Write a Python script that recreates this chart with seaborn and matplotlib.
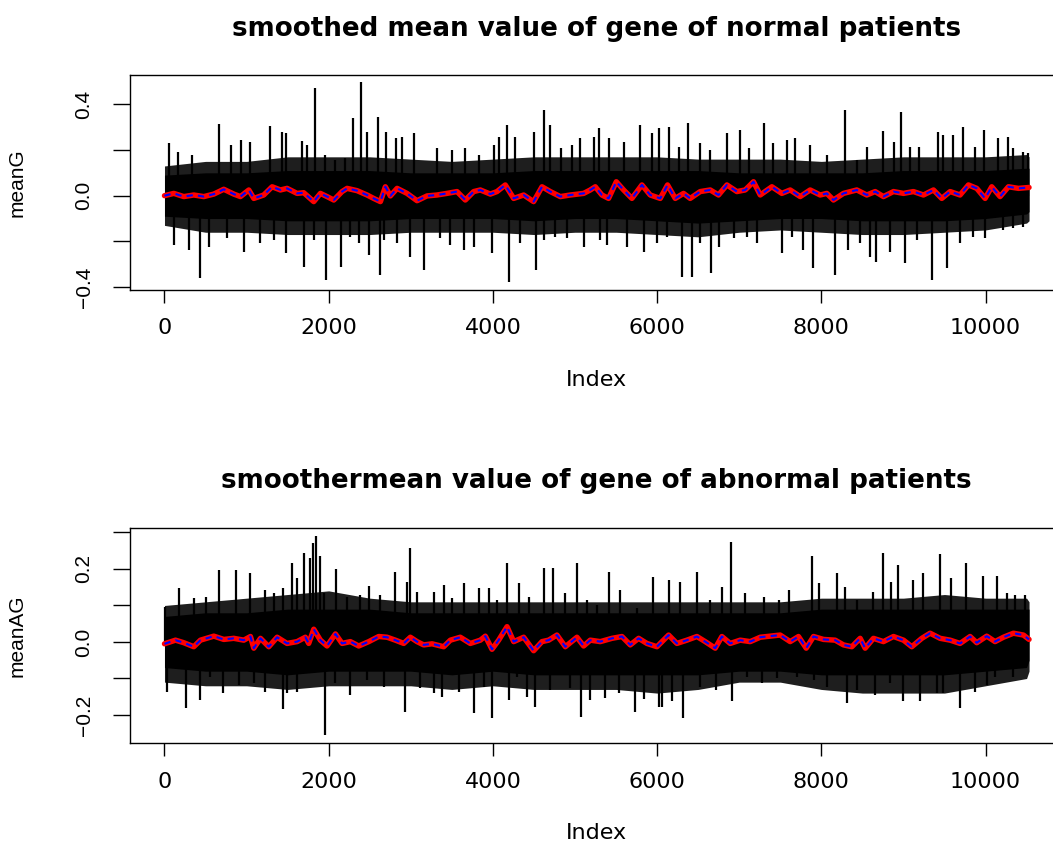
import numpy as np
import pandas as pd
import matplotlib
matplotlib.use("Agg")
import matplotlib.pyplot as plt
import seaborn as sns

# ---------------- data ----------------
titles = ["smoothed mean value of gene of normal patients",
          "smoothermean value of gene of abnormal patients"]
ylabels = ["meanG", "meanAG"]
x_ticks = [0, 2000, 4000, 6000, 8000, 10000]
n_points = 10530

# envelopes of the raw series (every 500 index): solid core and hairy fringe
env_x = [0, 500, 1000, 1500, 2000, 2500, 3000, 3500, 4000, 4500, 5000,
         5500, 6000, 6500, 7000, 7500, 8000, 8500, 9000, 9500, 10000, 10500, 10530]
top_core_hi = [0.09, 0.10, 0.10, 0.11, 0.11, 0.11, 0.10, 0.10, 0.10, 0.11, 0.11,
               0.11, 0.11, 0.11, 0.10, 0.10, 0.10, 0.10, 0.11, 0.11, 0.11, 0.12, 0.12]
top_core_lo = [-0.09, -0.10, -0.10, -0.11, -0.11, -0.11, -0.10, -0.10, -0.10, -0.11, -0.10,
               -0.10, -0.11, -0.12, -0.11, -0.10, -0.10, -0.11, -0.11, -0.11, -0.10, -0.08, -0.07]
top_fringe_hi = [0.13, 0.15, 0.15, 0.17, 0.17, 0.17, 0.16, 0.15, 0.16, 0.17, 0.17,
                 0.17, 0.17, 0.16, 0.16, 0.16, 0.15, 0.16, 0.17, 0.17, 0.17, 0.18, 0.17]
top_fringe_lo = [-0.13, -0.16, -0.16, -0.17, -0.17, -0.17, -0.16, -0.16, -0.16, -0.17, -0.16,
                 -0.16, -0.17, -0.18, -0.16, -0.15, -0.16, -0.17, -0.17, -0.16, -0.15, -0.12, -0.11]
bot_core_hi = [0.07, 0.08, 0.08, 0.09, 0.09, 0.09, 0.08, 0.08, 0.08, 0.08, 0.08,
               0.08, 0.08, 0.08, 0.08, 0.08, 0.09, 0.09, 0.09, 0.09, 0.09, 0.09, 0.09]
bot_core_lo = [-0.07, -0.08, -0.08, -0.09, -0.08, -0.08, -0.08, -0.09, -0.08, -0.09, -0.09,
               -0.09, -0.09, -0.09, -0.08, -0.08, -0.09, -0.09, -0.09, -0.09, -0.08, -0.07, -0.05]
bot_fringe_hi = [0.10, 0.11, 0.12, 0.13, 0.14, 0.12, 0.11, 0.11, 0.11, 0.11, 0.11,
                 0.11, 0.11, 0.11, 0.11, 0.11, 0.12, 0.12, 0.12, 0.13, 0.12, 0.12, 0.11]
bot_fringe_lo = [-0.11, -0.12, -0.12, -0.13, -0.12, -0.12, -0.12, -0.13, -0.12, -0.13, -0.13,
                 -0.13, -0.14, -0.13, -0.11, -0.11, -0.13, -0.14, -0.14, -0.14, -0.12, -0.10, -0.08]

# visible spikes of the raw series (index, value)
top_up_x = [53, 162, 337, 670, 812, 934, 1047, 1291, 1433, 1474, 1676, 1737, 1839, 1960, 2082,
            2204, 2297, 2394, 2467, 2597, 2703, 2825, 2894, 3036, 3320, 3502, 3664, 3827, 4010,
            4070, 4172, 4273, 4496, 4626, 4699, 4829, 4963, 5065, 5227, 5287, 5409, 5592, 5787,
            5937, 6018, 6148, 6261, 6375, 6525, 6647, 6850, 7012, 7114, 7304, 7410, 7580, 7678,
            7864, 8067, 8290, 8432, 8562, 8757, 8887, 8972, 9082, 9195, 9427, 9488, 9609, 9723,
            9873, 9987, 10157, 10271, 10340, 10462, 10523]
top_up_y = [0.229, 0.193, 0.178, 0.314, 0.222, 0.244, 0.236, 0.305, 0.280, 0.276, 0.241, 0.222,
            0.470, 0.178, 0.156, 0.163, 0.338, 0.496, 0.280, 0.346, 0.280, 0.251, 0.258, 0.276,
            0.207, 0.200, 0.207, 0.178, 0.222, 0.258, 0.309, 0.258, 0.280, 0.375, 0.309, 0.207,
            0.222, 0.251, 0.258, 0.295, 0.251, 0.236, 0.309, 0.273, 0.295, 0.302, 0.214, 0.320,
            0.229, 0.200, 0.273, 0.287, 0.207, 0.317, 0.229, 0.244, 0.251, 0.222, 0.178, 0.375,
            0.156, 0.214, 0.285, 0.236, 0.368, 0.214, 0.214, 0.280, 0.266, 0.266, 0.302, 0.214,
            0.287, 0.251, 0.258, 0.207, 0.193, 0.185]
top_dn_x = [114, 297, 438, 540, 763, 966, 1169, 1331, 1486, 1696, 1818, 1972, 2151, 2265, 2366,
            2488, 2622, 2670, 2833, 2995, 3165, 3360, 3482, 3644, 3774, 3989, 4192, 4334, 4529,
            4618, 4760, 4902, 5105, 5308, 5389, 5632, 5835, 5998, 6119, 6302, 6424, 6525, 6655,
            6748, 6931, 7093, 7215, 7519, 7641, 7783, 7897, 8169, 8331, 8473, 8595, 8668, 8838,
            9021, 9163, 9346, 9536, 9690, 9853, 9995, 10218, 10340, 10462]
top_dn_y = [-0.216, -0.238, -0.362, -0.223, -0.187, -0.245, -0.209, -0.194, -0.252, -0.311,
            -0.194, -0.369, -0.311, -0.179, -0.209, -0.260, -0.347, -0.194, -0.209, -0.267,
            -0.325, -0.187, -0.216, -0.238, -0.223, -0.252, -0.376, -0.209, -0.325, -0.194,
            -0.179, -0.187, -0.223, -0.194, -0.216, -0.223, -0.245, -0.209, -0.179, -0.355,
            -0.355, -0.209, -0.340, -0.223, -0.187, -0.179, -0.209, -0.252, -0.179, -0.238,
            -0.318, -0.347, -0.238, -0.209, -0.267, -0.289, -0.245, -0.296, -0.194, -0.369,
            -0.318, -0.209, -0.179, -0.187, -0.150, -0.143, -0.136]

bot_up_x = [12, 175, 357, 500, 670, 865, 1047, 1230, 1331, 1445, 1555, 1615, 1696, 1769, 1806,
            1851, 1899, 1940, 2094, 2224, 2386, 2496, 2630, 2812, 2954, 2987, 3076, 3279, 3401,
            3503, 3644, 3827, 3949, 4050, 4172, 4314, 4436, 4618, 4732, 4882, 5024, 5146, 5270,
            5409, 5543, 5754, 5949, 6148, 6274, 6485, 6647, 6789, 6903, 7073, 7296, 7479, 7609,
            7884, 7966, 8189, 8290, 8432, 8635, 8749, 8850, 8940, 9122, 9244, 9447, 9577, 9764,
            9975, 10137, 10259, 10360, 10482]
bot_up_y = [0.097, 0.147, 0.120, 0.124, 0.197, 0.197, 0.188, 0.142, 0.133, 0.147, 0.217, 0.174,
            0.245, 0.229, 0.272, 0.290, 0.236, 0.133, 0.199, 0.124, 0.129, 0.152, 0.129, 0.193,
            0.165, 0.257, 0.138, 0.138, 0.156, 0.120, 0.161, 0.147, 0.147, 0.115, 0.215, 0.161,
            0.124, 0.202, 0.202, 0.133, 0.215, 0.115, 0.100, 0.193, 0.142, 0.092, 0.177, 0.170,
            0.165, 0.193, 0.115, 0.150, 0.275, 0.133, 0.124, 0.115, 0.142, 0.236, 0.161, 0.188,
            0.150, 0.115, 0.138, 0.243, 0.165, 0.211, 0.170, 0.188, 0.241, 0.174, 0.217, 0.181,
            0.181, 0.133, 0.129, 0.129]
bot_dn_x = [33, 256, 430, 560, 715, 905, 1088, 1230, 1445, 1493, 1615, 1960, 2082, 2264, 2467,
            2670, 2934, 3117, 3279, 3381, 3583, 3766, 3888, 3989, 4192, 4294, 4415, 4517, 4699,
            4943, 5077, 5186, 5369, 5531, 5734, 5835, 6018, 6059, 6180, 6310, 6525, 6720, 6911,
            7093, 7276, 7458, 7702, 7905, 8067, 8311, 8432, 8656, 8838, 9001, 9204, 9406, 9488,
            9690, 9873, 10015, 10116, 10340, 10482]
bot_dn_y = [-0.136, -0.182, -0.159, -0.095, -0.141, -0.118, -0.113, -0.136, -0.184, -0.141,
            -0.136, -0.255, -0.113, -0.145, -0.104, -0.122, -0.191, -0.127, -0.141, -0.150,
            -0.136, -0.195, -0.122, -0.209, -0.159, -0.095, -0.150, -0.177, -0.131, -0.127,
            -0.205, -0.159, -0.154, -0.141, -0.191, -0.157, -0.177, -0.177, -0.163, -0.209,
            -0.122, -0.131, -0.163, -0.095, -0.113, -0.100, -0.095, -0.104, -0.122, -0.168,
            -0.131, -0.145, -0.113, -0.163, -0.163, -0.141, -0.141, -0.182, -0.136, -0.118,
            -0.095, -0.095, -0.063]

# smoothed curves (red solid + blue dashed)
top_smooth_x = [0, 114, 235, 357, 479, 601, 722, 844, 925, 1027,
                1088, 1209, 1311, 1412, 1493, 1615, 1696, 1818, 1899, 1980,
                2062, 2163, 2224, 2345, 2467, 2548, 2630, 2690, 2751, 2833,
                2954, 3076, 3198, 3320, 3441, 3563, 3664, 3766, 3847, 3969,
                4050, 4151, 4253, 4375, 4496, 4598, 4699, 4821, 4943, 5105,
                5186, 5247, 5328, 5409, 5503, 5592, 5693, 5815, 5916, 6038,
                6127, 6221, 6322, 6403, 6525, 6647, 6748, 6850, 6972, 7073,
                7174, 7256, 7398, 7519, 7621, 7743, 7864, 7986, 8067, 8148,
                8270, 8432, 8554, 8656, 8757, 8879, 9001, 9122, 9244, 9366,
                9467, 9569, 9690, 9792, 9893, 9995, 10076, 10177, 10279, 10401,
                10530]
top_smooth_y = [0.000, 0.010, -0.004, 0.003, -0.004, 0.007, 0.028, 0.007, -0.004, 0.025,
                -0.012, 0.003, 0.039, 0.025, 0.032, 0.010, 0.013, -0.026, 0.010, -0.004,
                -0.019, 0.018, 0.032, 0.022, 0.003, -0.012, -0.026, 0.039, -0.001, 0.032,
                0.010, -0.022, -0.001, 0.003, 0.010, 0.018, -0.019, 0.018, 0.025, 0.007,
                0.018, 0.047, -0.012, 0.003, -0.026, 0.039, 0.018, -0.004, 0.003, 0.010,
                0.025, 0.039, 0.003, -0.012, 0.061, 0.025, -0.012, 0.047, 0.003, -0.012,
                0.047, -0.012, 0.010, -0.012, 0.018, 0.025, 0.003, 0.047, 0.018, 0.025,
                0.061, 0.003, 0.039, 0.010, 0.025, -0.004, 0.025, 0.003, 0.010, -0.019,
                0.010, 0.025, 0.003, 0.018, -0.004, 0.018, 0.010, 0.018, 0.003, 0.025,
                -0.012, 0.018, 0.003, 0.047, 0.032, -0.012, 0.039, -0.004, 0.039, 0.032,
                0.036]
bot_smooth_x = [0, 134, 235, 357, 438, 601, 722, 844, 966, 1047,
                1088, 1169, 1270, 1372, 1493, 1615, 1716, 1757, 1818, 1899,
                1980, 2082, 2163, 2264, 2366, 2488, 2609, 2711, 2812, 2914,
                2995, 3076, 3157, 3259, 3401, 3482, 3603, 3725, 3847, 3908,
                3989, 4070, 4172, 4253, 4375, 4496, 4598, 4679, 4780, 4882,
                5024, 5105, 5186, 5308, 5450, 5572, 5673, 5775, 5876, 5998,
                6140, 6241, 6363, 6485, 6586, 6708, 6789, 6890, 7012, 7134,
                7256, 7377, 7499, 7621, 7722, 7816, 7905, 8027, 8169, 8270,
                8372, 8473, 8534, 8635, 8757, 8879, 9001, 9102, 9224, 9325,
                9447, 9569, 9690, 9812, 9893, 10015, 10116, 10218, 10340, 10462,
                10530]
bot_smooth_y = [-0.005, 0.005, -0.002, -0.013, 0.005, 0.016, 0.007, 0.010, 0.005, 0.015,
                -0.017, 0.010, -0.013, 0.013, -0.004, 0.001, 0.013, -0.004, 0.035, 0.005,
                -0.011, 0.022, -0.004, 0.001, -0.011, 0.001, 0.015, 0.013, 0.005, -0.004,
                0.013, 0.001, -0.008, -0.005, -0.013, 0.005, 0.013, -0.004, 0.005, 0.016,
                -0.020, 0.005, 0.042, 0.001, 0.013, -0.024, 0.001, 0.005, 0.019, -0.013,
                0.013, -0.011, 0.005, 0.001, 0.010, 0.015, -0.008, 0.010, -0.004, -0.013,
                0.019, -0.004, 0.005, 0.015, 0.001, -0.017, 0.015, -0.004, 0.005, 0.001,
                0.013, 0.016, 0.019, 0.001, 0.015, -0.017, 0.015, 0.007, 0.005, -0.008,
                -0.013, 0.010, -0.017, 0.010, 0.001, 0.015, 0.005, -0.013, 0.010, 0.024,
                0.010, 0.005, -0.004, 0.015, -0.002, 0.016, 0.001, 0.013, 0.024, 0.019,
                0.007]

top_yticks = [-0.4, -0.2, 0.0, 0.2, 0.4]
top_yticklabels = ["\u22120.4", "", "0.0", "", "0.4"]
bot_yticks = [-0.2, -0.1, 0.0, 0.1, 0.2, 0.3]
bot_yticklabels = ["\u22120.2", "", "0.0", "", "0.2", ""]

# ---------------- drawing ----------------
sns.set_theme(style="ticks")
plt.rcParams["font.family"] = ["DejaVu Sans"]

W, H = 1053, 846
fig = plt.figure(figsize=(W / 100, H / 100), dpi=100)
fig.patch.set_facecolor("white")

panels = [
    dict(top=75, bottom=290, ylim=(-0.4127, 0.528), title=titles[0], ylabel=ylabels[0],
         core_hi=top_core_hi, core_lo=top_core_lo, fr_hi=top_fringe_hi, fr_lo=top_fringe_lo,
         up_x=top_up_x, up_y=top_up_y, dn_x=top_dn_x, dn_y=top_dn_y,
         sx=top_smooth_x, sy=top_smooth_y, yticks=top_yticks, ytl=top_yticklabels),
    dict(top=527.7, bottom=743.3, ylim=(-0.2775, 0.313), title=titles[1], ylabel=ylabels[1],
         core_hi=bot_core_hi, core_lo=bot_core_lo, fr_hi=bot_fringe_hi, fr_lo=bot_fringe_lo,
         up_x=bot_up_x, up_y=bot_up_y, dn_x=bot_dn_x, dn_y=bot_dn_y,
         sx=bot_smooth_x, sy=bot_smooth_y, yticks=bot_yticks, ytl=bot_yticklabels),
]

left_px, right_px = 130, 1063.6
for p in panels:
    hpx = p["bottom"] - p["top"]
    ax = fig.add_axes([left_px / W, 1 - p["bottom"] / H, (right_px - left_px) / W, hpx / H])
    ax.set_facecolor("white")

    # raw series: hairy fringe, dense core, spikes
    ax.fill_between(env_x, p["fr_lo"], p["fr_hi"], color="#1e1e1e", lw=0, zorder=1)
    ax.fill_between(env_x, p["core_lo"], p["core_hi"], color="black", lw=0, zorder=1)
    ax.vlines(p["up_x"], 0, p["up_y"], color="black", lw=1.6, zorder=1)
    ax.vlines(p["dn_x"], p["dn_y"], 0, color="black", lw=1.6, zorder=1)

    df = pd.DataFrame({"Index": p["sx"], "value": p["sy"]})
    sns.lineplot(data=df, x="Index", y="value", ax=ax, color="red", lw=3.9,
                 estimator=None, sort=False, zorder=2)
    sns.lineplot(data=df, x="Index", y="value", ax=ax, color="blue", lw=1.5,
                 estimator=None, sort=False, zorder=3)
    ax.lines[-2].set_solid_capstyle("round")
    ax.lines[-2].set_solid_joinstyle("round")
    ax.lines[-1].set_linestyle((0, (3, 2.5)))

    ax.set_xlim(-420, 10951)
    ax.set_ylim(*p["ylim"])
    ax.set_xticks(x_ticks)
    ax.set_xticklabels([str(v) for v in x_ticks])
    ax.set_yticks(p["yticks"])
    ax.set_yticklabels(p["ytl"])
    for lab in ax.get_yticklabels():
        lab.set_rotation(90)
        lab.set_va("center")
        lab.set_ha("right")
        lab.set_fontfamily("Liberation Sans")
        lab.set_fontsize(15)

    ax.tick_params(axis="x", length=9.4, width=1.0, direction="out", pad=11,
                   labelsize=16, colors="black")
    ax.tick_params(axis="y", length=12.2, width=1.0, direction="out", pad=14,
                   colors="black")
    for s in ax.spines.values():
        s.set_visible(True)
        s.set_color("black")
        s.set_linewidth(1.0)
    ax.grid(False)

    ax.set_xlabel("Index", fontsize=16, color="black", va="center", ha="center")
    ax.xaxis.set_label_coords(0.5, -90 / hpx)
    ax.set_ylabel(p["ylabel"], fontsize=15, family="Liberation Sans", color="black",
                  va="center", ha="center")
    ax.yaxis.set_label_coords((17.5 - left_px) / (right_px - left_px), 0.5)

    ax.set_title(p["title"], fontsize=18.8, fontweight="bold", color="black",
                 y=1 + 46.5 / hpx, pad=0, va="center")

fig.savefig("out.png", dpi=100, facecolor="white")
